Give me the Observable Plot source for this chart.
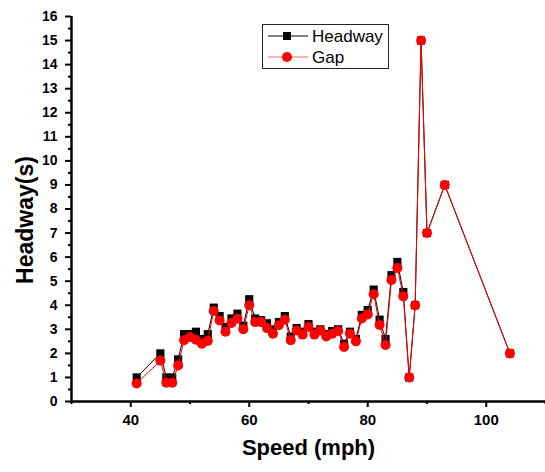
<!DOCTYPE html>
<html>
<head>
<meta charset="utf-8">
<script src="https://cdn.jsdelivr.net/npm/d3@7"></script>
<script src="https://cdn.jsdelivr.net/npm/@observablehq/plot@0.6"></script>
<style>
  html, body { margin: 0; padding: 0; background: #fff; }
  #wrap { position: relative; width: 545px; height: 472px; font-family: "Liberation Sans", Arial, sans-serif; }
  #legend { position: absolute; left: 262px; top: 24px; width: 125px; height: 43px; border: 1px solid #222; background: #fff; }
</style>
</head>
<body>
<div id="wrap"></div>
<script>
const speed = [41,45,46,47,48,49,50,51,52,53,54,55,56,57,58,59,60,61,62,63,64,65,66,67,68,69,70,71,72,73,74,75,76,77,78,79,80,81,82,83,84,85,86,87,88,89,90,93,104];
const headway = [1.0,2.0,1.0,1.0,1.75,2.8,2.8,2.9,2.6,2.8,3.9,3.55,3.1,3.45,3.65,3.15,4.25,3.45,3.38,3.25,3.0,3.3,3.55,2.7,3.05,2.9,3.22,2.9,3.0,2.8,2.93,3.0,2.4,2.9,2.6,3.6,3.8,4.65,3.4,2.6,5.25,5.8,4.55,1.0,4.0,15,7,9,2];
const gap = [0.75,1.7,0.78,0.78,1.5,2.55,2.68,2.57,2.4,2.52,3.76,3.37,2.9,3.26,3.44,3.0,4.0,3.3,3.3,3.05,2.82,3.17,3.4,2.55,2.95,2.78,3.1,2.78,2.95,2.7,2.82,2.93,2.27,2.82,2.5,3.45,3.62,4.46,3.18,2.35,5.05,5.55,4.37,1.0,4.0,15,7,9,2];
const seriesNames = ["Headway", "Gap"];
const xMajorTicks = [40, 60, 80, 100];
const xMinorTicks = [30, 50, 70, 90, 110];
const yMajorTicks = d3.range(0, 17, 1);
const yMinorTicks = d3.range(0.5, 16, 1);
const xTitle = "Speed (mph)";
const yTitle = "Headway(s)";

const hData = speed.map((s, i) => ({speed: s, value: headway[i]}));
const gData = speed.map((s, i) => ({speed: s, value: gap[i]}));

const chart = Plot.plot({
  width: 545,
  height: 472,
  marginLeft: 71,
  marginRight: 0,
  marginTop: 16,
  marginBottom: 71,
  style: {fontFamily: "Liberation Sans, Arial, sans-serif", background: "#fff", color: "#000"},
  x: {domain: [30, 110]},
  y: {domain: [0, 16]},
  marks: [
    Plot.axisY({ticks: yMajorTicks, tickSize: 6, tickPadding: 8, fontSize: 14, fontWeight: "bold", strokeWidth: 2, label: null, tickFormat: d => d}),
    Plot.axisY({ticks: yMinorTicks, tickSize: 3, strokeWidth: 2, label: null, tickFormat: () => ""}),
    Plot.axisX({ticks: xMajorTicks, tickSize: 6, tickPadding: 7, fontSize: 15, fontWeight: "bold", strokeWidth: 2, label: null, tickFormat: d => d}),
    Plot.axisX({ticks: xMinorTicks, tickSize: 3, strokeWidth: 2, label: null, tickFormat: () => ""}),
    Plot.ruleX([30], {stroke: "#000", strokeWidth: 2.5}),
    Plot.ruleY([0], {stroke: "#000", strokeWidth: 2.5}),
    Plot.text([xTitle], {frameAnchor: "bottom", dy: 53, fontSize: 22, fontWeight: "bold", fill: "#000"}),
    Plot.text([yTitle], {frameAnchor: "left", textAnchor: "middle", lineAnchor: "middle", rotate: -90, dx: -46, dy: 11, fontSize: 23, fontWeight: "bold", fill: "#000"}),
    Plot.line(hData, {x: "speed", y: "value", stroke: "#000", strokeWidth: 1}),
    Plot.dot(hData, {x: "speed", y: "value", symbol: "square", r: 4.6, fill: "#000", stroke: "none"}),
    Plot.line(gData, {x: "speed", y: "value", stroke: "#ff0000", strokeWidth: 1}),
    Plot.dot(gData, {x: "speed", y: "value", symbol: "circle", r: 5, fill: "#ff0000", stroke: "none"})
  ]
});

const wrap = document.getElementById("wrap");
wrap.appendChild(chart);

const legend = document.createElement("div");
legend.id = "legend";
legend.innerHTML = `
<svg width="125" height="43" style="position:absolute;left:0;top:0">
  <line x1="5" y1="11" x2="45" y2="11" stroke="#000" stroke-width="1"/>
  <rect x="20" y="7" width="8" height="8" fill="#000"/>
  <text x="49" y="17" font-size="17" font-family="Liberation Sans, Arial, sans-serif" fill="#000">${seriesNames[0]}</text>
  <line x1="5" y1="32" x2="45" y2="32" stroke="#ff6a6a" stroke-width="1.2"/>
  <circle cx="24" cy="32" r="5" fill="#ff0000"/>
  <text x="49" y="38" font-size="17" font-family="Liberation Sans, Arial, sans-serif" fill="#000">${seriesNames[1]}</text>
</svg>`;
wrap.appendChild(legend);
</script>
</body>
</html>
